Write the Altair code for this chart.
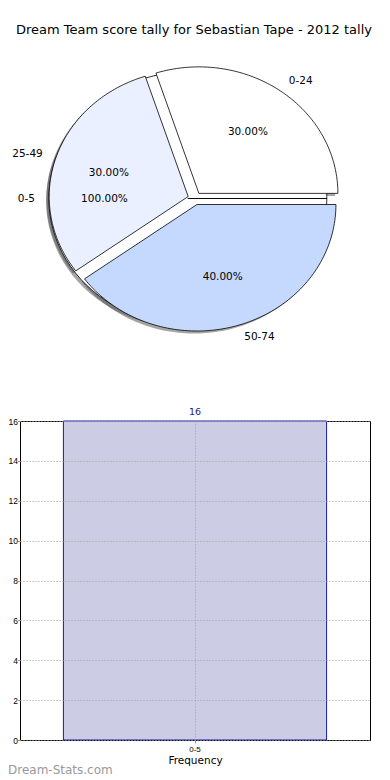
import altair as alt
import pandas as pd

# ---- data ----
title_text = "Dream Team score tally for Sebastian Tape - 2012 tally"
slice_labels = ["0-24", "25-49", "50-74"]
slice_values = [30, 30, 40]
overlay_labels = ["0-5"]
overlay_values = [100]
bar_categories = ["0-5"]
bar_values = [16]
y_ticks = [0, 2, 4, 6, 8, 10, 12, 14, 16]
x_title = "Frequency"
y_title = "Score Range"
watermark = "Dream-Stats.com"

slice_colors = ["#ffffff", "#eaf0ff", "#c5d9ff"]
overlay_colors = ["#ffffff"]

pie_df = pd.DataFrame({
    "pie": ["main"] * len(slice_labels) + ["overlay"] * len(overlay_labels),
    "label": slice_labels + overlay_labels,
    "value": slice_values + overlay_values,
    "idx": list(range(len(slice_labels))) + list(range(len(overlay_labels))),
})
bar_df = pd.DataFrame({"category": bar_categories, "count": bar_values})

# ---- pie geometry (panel pixels) ----
CX, CY, RX, RY = 174.8, 190.5, 139, 126.5
EXPLODE, SHADOW = 0.05, 0.02
FONT = "DejaVu Sans"

xs = alt.Scale(domain=[-1, 1], range=[CX - RX, CX + RX], nice=False, zero=False)
ys = alt.Scale(domain=[-1, 1], range=[CY + RY, CY - RY], nice=False, zero=False)
color_scale = alt.Scale(domain=slice_labels + overlay_labels, range=slice_colors + overlay_colors)

base = (
    alt.Chart(pie_df)
    .transform_joinaggregate(total="sum(value)", groupby=["pie"])
    .transform_stack(stack="value", groupby=["pie"], as_=["t0", "t1"],
                     sort=[alt.SortField("idx", order="ascending")])
    .transform_calculate(
        a0="2 * PI * datum.t0 / datum.total",
        a1="2 * PI * datum.t1 / datum.total",
        am="PI * (datum.t0 + datum.t1) / datum.total",
        pctlabel="format(datum.value / datum.total * 100, '.2f') + '%'",
    )
    .transform_calculate(
        ex=f"{EXPLODE} * cos(datum.am)",
        ey=f"{EXPLODE} * sin(datum.am)",
    )
    .transform_calculate(
        lu="datum.ex + 1.1 * cos(datum.am)",
        lv="datum.ey + 1.1 * sin(datum.am)",
        pu="datum.ex + 0.6 * cos(datum.am)",
        pv="datum.ey + 0.6 * sin(datum.am)",
    )
)

poly = (
    base.transform_calculate(k="sequence(-1, 101)")
    .transform_flatten(["k"])
    .transform_calculate(a="datum.a0 + (datum.a1 - datum.a0) * datum.k / 100")
    .transform_calculate(
        u="datum.k < 0 ? datum.ex : datum.ex + cos(datum.a)",
        v="datum.k < 0 ? datum.ey : datum.ey + sin(datum.a)",
    )
    .transform_calculate(su=f"datum.u - {SHADOW}", sv=f"datum.v - {SHADOW}")
)

def penc(uf, vf):
    return dict(
        x=alt.X(f"{uf}:Q", scale=xs, axis=None),
        y=alt.Y(f"{vf}:Q", scale=ys, axis=None),
        order=alt.Order("k:Q"),
        detail="label:N",
    )

ov = poly.transform_filter("datum.pie == 'overlay'")
mn = poly.transform_filter("datum.pie == 'main'")

ov_shadow = ov.mark_line(filled=True, interpolate="linear-closed", color="#4d4d4d",
                         opacity=0.5, strokeWidth=0).encode(**penc("su", "sv"))
mn_shadow = mn.mark_line(filled=True, interpolate="linear-closed", color="#4d4d4d",
                         opacity=0.5, strokeWidth=0).encode(**penc("su", "sv"))
ov_disc = ov.mark_line(filled=True, interpolate="linear-closed", stroke="black", strokeWidth=0.8).encode(
    color=alt.Color("label:N", scale=color_scale, legend=None), **penc("u", "v"))
mn_slices = mn.mark_line(filled=True, interpolate="linear-closed", stroke="black", strokeWidth=0.8).encode(
    color=alt.Color("label:N", scale=color_scale, legend=None), **penc("u", "v"))

lab_right = base.transform_filter("cos(datum.am) >= 0").mark_text(
    align="left", baseline="middle", fontSize=10.5, font=FONT, color="black"
).encode(x=alt.X("lu:Q", scale=xs, axis=None), y=alt.Y("lv:Q", scale=ys, axis=None), text="label:N")
lab_left = base.transform_filter("cos(datum.am) < 0").mark_text(
    align="right", baseline="middle", fontSize=10.5, font=FONT, color="black"
).encode(x=alt.X("lu:Q", scale=xs, axis=None), y=alt.Y("lv:Q", scale=ys, axis=None), text="label:N")
pct = base.mark_text(
    align="center", baseline="middle", fontSize=10.5, font=FONT, color="black"
).encode(x=alt.X("pu:Q", scale=xs, axis=None), y=alt.Y("pv:Q", scale=ys, axis=None), text="pctlabel:N")

title = alt.Chart(pd.DataFrame({"t": [title_text]})).mark_text(
    fontSize=13, font=FONT, color="black", align="center", baseline="middle"
).encode(x=alt.value(174), y=alt.value(22), text="t:N")

pie = alt.layer(ov_shadow, mn_shadow, ov_disc, mn_slices, lab_right, lab_left, pct, title).properties(
    width=350, height=413, view=alt.ViewBackground(strokeOpacity=0)
)

# ---- bar chart ----
xenc = alt.X(
    "category:N",
    scale=alt.Scale(paddingInner=0, paddingOuter=0.165),
    axis=alt.Axis(
        title=x_title, labelAngle=0, labelFont="Liberation Sans", labelFontSize=8, labelColor="black",
        tickColor="#999999", tickSize=3, labelPadding=2, domain=False,
        grid=True, gridColor="#a0a0a0", gridDash=[1, 2], gridWidth=1, bandPosition=0.5,
        titleFont=FONT, titleFontSize=10.5, titleFontWeight="normal", titlePadding=2, zindex=1,
    ),
)
yenc = alt.Y(
    "count:Q",
    scale=alt.Scale(domain=[0, 16], nice=False, zero=True),
    axis=alt.Axis(
        values=y_ticks, tickCount=len(y_ticks), labelOverlap=False, labelFont="Liberation Sans",
        labelFontSize=8.5, labelColor="black", tickColor="#999999", tickSize=2.5, labelPadding=0,
        domain=False, grid=True, gridColor="#a0a0a0", gridDash=[1, 2], gridWidth=1,
        title=y_title, titleFont=FONT, titleFontSize=10.5, titleFontWeight="normal", titlePadding=2,
        zindex=1,
    ),
)
bars = alt.Chart(bar_df).mark_bar(fill="#ccccE5", stroke="#1c1c9c", strokeWidth=1).encode(x=xenc, y=yenc)
vals = alt.Chart(bar_df).mark_text(dy=-9, color="#1a1a80", fontSize=9.5, font=FONT, baseline="middle").encode(
    x=xenc, y=yenc, text="count:Q"
)
wm = alt.Chart(pd.DataFrame({"t": [watermark]})).mark_text(
    align="left", baseline="middle", fontSize=12, font=FONT, color="#999999"
).encode(x=alt.value(-12), y=alt.value(349), text="t:N")

barchart = alt.layer(bars, vals, wm).properties(
    width=350, height=319, view=alt.ViewBackground(stroke="black", strokeWidth=1)
)

chart = alt.vconcat(pie, barchart, spacing=0, bounds="flush").properties(
    padding={"left": -13, "top": 0, "right": 0, "bottom": 0}
).configure(font=FONT).configure_view(stroke="black")

chart.save("out.html", embed_options={"renderer": "svg", "actions": False})
